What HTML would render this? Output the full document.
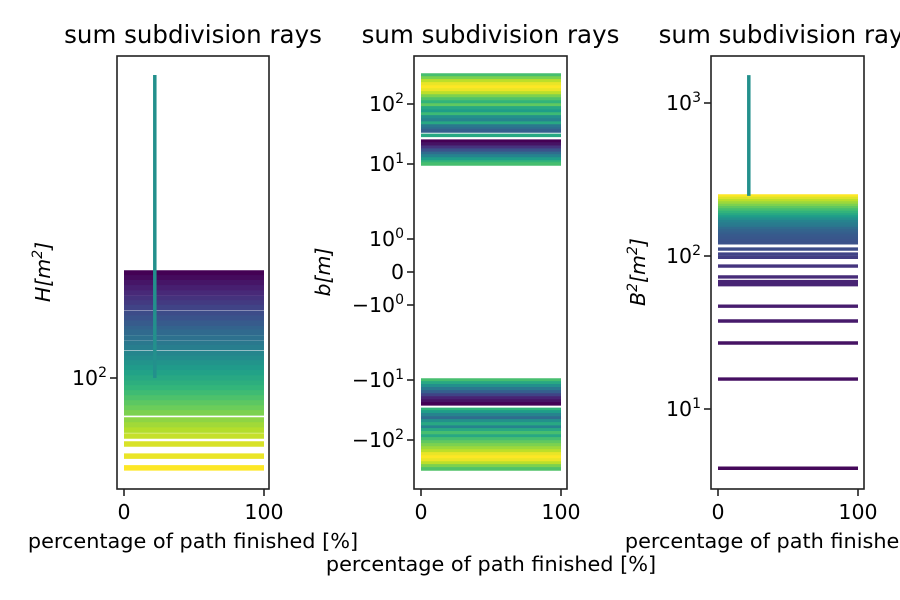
<!DOCTYPE html>
<html><head><meta charset="utf-8"><style>
html,body{margin:0;padding:0;background:#fff}
svg{display:block;font-family:"DejaVu Sans","Liberation Sans",sans-serif}
</style></head><body>
<svg id="chart" width="900" height="600" viewBox="0 0 900 600" xmlns="http://www.w3.org/2000/svg"></svg>
<script>
// ---- data ----
const xStart = 0, xEnd = 100, spikeX = 22;
const p1Values = [183,178,173,168,163,158,154,150,145,141,137,133,130,126,122,119,115,112,109,106,103,100,97,94.4,91.7,89.1,86.6,84.1,81.8,78.5,76.3,74.1,71.6,68.4,63.8,59.6];
const p1SpikeTop = 572, p1SpikeBase = 100;
const p2Values = [304,271,242,216,192,171,153,136,121,108,96,86,76,68,61,54,48,43,38,35.5,30,24,21.5,19,17,15,13.6,12.1,10.8,10,
  -10,-11.2,-12.5,-14,-15.8,-17.8,-20,-22.4,-25,-31,-34,-38,-43,-48,-54,-61,-68,-76,-86,-96,-108,-121,-136,-153,-171,-192,-216,-242,-271,-304];
const p2Colors = [.7,.8,.9,.97,1,.97,.9,.8,.72,.65,.75,.6,.55,.68,.5,.45,.6,.4,.35,.3,.6,0,.05,.15,.25,.35,.45,.55,.65,.7,
  .7,.6,.5,.4,.3,.2,.1,.05,0,.65,.55,.45,.35,.5,.6,.45,.6,.7,.6,.7,.75,.8,.85,.9,.97,1,.97,.9,.8,.72];
const p3Values = [247,238,230,222,214,207,200,193,186,180,174,168,162,156,151,146,141,136,131,126,122,111,103,98,86,73,68,65,47,37.6,27,15.7,4.1];
const p3Colors = [1,.95,.9,.85,.8,.75,.7,.65,.6,.55,.5,.45,.42,.4,.35,.32,.3,.28,.27,.26,.25,.23,.2,.18,.15,.12,.1,.1,.08,.07,.05,.04,.02];
const p3SpikeTop = 1520, p3SpikeBase = 247;
const xTicks = [0,100];
const p1YTicks = [100];
const p1YTickLabels = [["10","2"]];
const p2YTicks = [100,10,1,0,-1,-10,-100];
const p2YTickLabels = [["10","2"],["10","1"],["10","0"],["0",""],["−10","0"],["−10","1"],["−10","2"]];
const p3YTicks = [1000,100,10];
const p3YTickLabels = [["10","3"],["10","2"],["10","1"]];

// ---- helpers ----
const NS="http://www.w3.org/2000/svg";
const svg=document.getElementById('chart');
function mk(tag,attrs,parent){const e=document.createElementNS(NS,tag);for(const k in attrs)e.setAttribute(k,attrs[k]);(parent||svg).appendChild(e);return e;}
const vir=[[68,1,84],[72,40,120],[62,74,137],[49,104,142],[38,130,142],[31,158,137],[53,183,121],[110,206,88],[181,222,43],[253,231,37]];
function viridis(t){t=Math.max(0,Math.min(1,t))*9;const i=Math.min(8,Math.floor(t)),f=t-i;const a=vir[i],b=vir[i+1];
  return `rgb(${Math.round(a[0]+(b[0]-a[0])*f)},${Math.round(a[1]+(b[1]-a[1])*f)},${Math.round(a[2]+(b[2]-a[2])*f)})`;}

const panels=[
 {L:117,R:269,x0:124,x1:264,lw:5.5,y:v=>378-400*(Math.log10(v)-2)},
 {L:414,R:567,x0:421,x1:561,lw:3.6,y:v=>{const a=Math.abs(v),s=Math.sign(v);let u;if(a<=1)u=a*33;else{const l=Math.log10(a);u=l<=1?33+l*75:108+(l-1)*60;}return 272-s*u;}},
 {L:711,R:864,x0:718,x1:858,lw:3.4,y:v=>256-153*(Math.log10(v)-2)}
];
const T=56,B=489;
function xs(p,v){return p.x0+(p.x1-p.x0)*(v-xStart)/(xEnd-xStart);}

panels.forEach((p,pi)=>{
  const g=mk('g',{});
  
  
  const clip=mk('clipPath',{id:'c'+pi},g);mk('rect',{x:p.L,y:T,width:p.R-p.L,height:B-T},clip);
  const plot=mk('g',{'clip-path':`url(#c${pi})`},g);
  let vals,cols;
  if(pi===0){vals=p1Values;cols=p1Values.map((_,i)=>i/(p1Values.length-1));}
  else if(pi===1){vals=p2Values;cols=p2Colors;}
  else {vals=p3Values;cols=p3Colors;}
  vals.forEach((v,i)=>{
    const y=p.y(v);
    const l=mk('line',{x1:xs(p,xStart),x2:xs(p,xEnd),y1:y,y2:y,stroke:viridis(cols[i]),'stroke-width':p.lw},plot);
    
    
  });
  if(pi!==1){
    const top=pi===0?p1SpikeTop:p3SpikeTop, base=pi===0?p1SpikeBase:p3SpikeBase;
    const s=mk('line',{x1:xs(p,spikeX),x2:xs(p,spikeX),y1:p.y(base),y2:p.y(top),stroke:viridis(0.5),'stroke-width':3.5},plot);
    
    
  }
  const fr=mk('rect',{x:p.L,y:T,width:p.R-p.L,height:B-T,fill:'none',stroke:'#222','stroke-width':1.6},g);
  
  
  xTicks.forEach(t=>{const x=xs(p,t);mk('line',{x1:x,x2:x,y1:B,y2:B+7,stroke:'#222','stroke-width':1.6},g);
    const tx=mk('text',{x:x,y:B+30,'text-anchor':'middle','font-size':20.5},g);tx.textContent=t;
    
    });
  const yt=pi===0?p1YTicks:pi===1?p2YTicks:p3YTicks;
  const yl=pi===0?p1YTickLabels:pi===1?p2YTickLabels:p3YTickLabels;
  yt.forEach((t,i)=>{const y=p.y(t);mk('line',{x1:p.L-7,x2:p.L,y1:y,y2:y,stroke:'#222','stroke-width':1.6},g);
    const tx=mk('text',{x:p.L-10,y:y+7,'text-anchor':'end','font-size':20.5},g);
    tx.appendChild(document.createTextNode(yl[i][0]));
    if(yl[i][1]){const sp=mk('tspan',{'font-size':14,dy:-8},tx);sp.textContent=yl[i][1];}
    
    });
  const ti=mk('text',{x:(p.L+p.R)/2,y:43,'text-anchor':'middle','font-size':24.5},g);ti.textContent='sum subdivision rays';
  
  
});
// x labels
[[193,548],[790,548],[491,571]].forEach(([x,y])=>{const t=mk('text',{x:x,y:y,'text-anchor':'middle','font-size':20.8});t.textContent='percentage of path finished [%]';
  
  });
// y labels
[[50,'H[m','2',']'],[330,'b[m','',']'],[645,'B','2','[m']].forEach(([x,a,sup,b],k)=>{
  const t=mk('text',{x:x,y:272,'text-anchor':'middle','font-size':20.5,'font-style':'italic',transform:`rotate(-90 ${x} 272)`});
  t.appendChild(document.createTextNode(a));
  if(sup){const s=mk('tspan',{'font-size':14,dy:-8},t);s.textContent=sup;const r=mk('tspan',{dy:8},t);r.textContent=b;}
  else t.appendChild(document.createTextNode(b));
  if(k===2){const s2=mk('tspan',{'font-size':14,dy:-8},t);s2.textContent='2';const r2=mk('tspan',{dy:8},t);r2.textContent=']';}
  
  });
</script>
</body></html>
